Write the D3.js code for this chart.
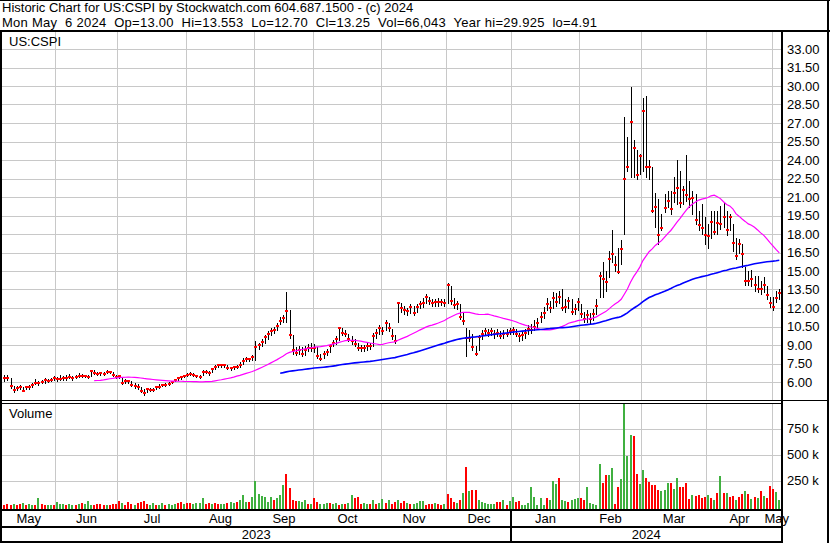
<!DOCTYPE html>
<html>
<head>
<meta charset="utf-8">
<script src="https://cdn.jsdelivr.net/npm/d3@7"></script>
<style>
body { margin: 0; background: #fff; }
svg { display: block; }
text { font-family: "Liberation Sans", Arial, sans-serif; white-space: pre; fill: #000; }
</style>
</head>
<body>
<script>
const width = 830;
const height = 543;

const title = "Historic Chart for US:CSPI by Stockwatch.com 604.687.1500 - (c) 2024";
const subtitle = "Mon May  6 2024  Op=13.00  Hi=13.553  Lo=12.70  Cl=13.25  Vol=66,043  Year hi=29.925  lo=4.91";
const symbol = "US:CSPI";

// daily closes, May 8 2023 .. May 6 2024
const closes = [
  6.30, 6.30, 5.67, 5.35, 5.49, 5.62, 5.30, 5.57, 5.57, 5.76,
  5.95, 5.90, 6.03, 6.16, 6.11, 6.20, 6.30, 6.22, 6.22, 6.30,
  6.30, 6.43, 6.30, 6.43, 6.49, 6.49, 6.49, 6.43, 6.92, 6.75,
  6.65, 6.70, 6.65, 6.81, 6.81, 6.56, 6.43, 6.49, 5.89, 6.11,
  6.11, 5.76, 5.67, 5.57, 5.30, 5.08, 5.41, 5.35, 5.35, 5.57,
  5.62, 5.76, 5.76, 5.84, 6.03, 6.16, 6.30, 6.38, 6.49, 6.57,
  6.65, 6.54, 6.49, 6.43, 6.81, 6.84, 6.70, 7.03, 7.24, 7.38,
  7.38, 7.38, 7.11, 7.11, 7.19, 7.24, 7.38, 7.73, 7.84, 7.84,
  8.00, 8.86, 9.00, 9.27, 9.62, 9.89, 10.16, 10.22, 10.54, 10.97,
  11.20, 11.76, 9.81, 8.60, 8.38, 8.60, 8.24, 8.56, 8.73, 8.73,
  8.78, 8.10, 7.90, 8.24, 8.45, 8.92, 9.20, 9.46, 10.40, 10.00,
  9.87, 9.46, 9.33, 9.10, 8.78, 8.73, 8.73, 8.92, 8.92, 9.74,
  10.00, 10.40, 10.15, 10.75, 10.36, 9.74, 9.33, 12.38, 12.00, 11.84,
  11.73, 12.10, 11.56, 12.05, 12.33, 12.38, 12.87, 12.55, 12.38, 12.45,
  12.46, 12.46, 12.38, 13.90, 12.55, 12.27, 12.33, 11.30, 10.96, 9.60,
  9.60, 8.80, 8.30, 9.65, 9.93, 10.10, 10.00, 10.10, 9.87, 10.00,
  9.74, 9.87, 9.93, 10.15, 10.20, 9.90, 9.70, 9.80, 10.00, 10.30,
  10.20, 10.50, 10.80, 11.30, 11.60, 12.30, 12.00, 12.80, 12.50, 12.90,
  12.00, 12.10, 12.60, 11.70, 11.90, 12.45, 11.50, 11.10, 11.40, 11.10,
  11.50, 12.20, 14.60, 14.35, 14.10, 16.00, 16.40, 15.50, 14.90, 16.80,
  22.50, 23.40, 27.10, 24.95, 22.80, 24.30, 28.00, 23.40, 23.40, 19.90,
  20.20, 17.90, 18.50, 20.10, 20.65, 20.00, 21.30, 21.70, 20.50, 21.60,
  21.20, 20.80, 20.90, 19.10, 18.70, 18.50, 17.90, 17.80, 19.00, 18.20,
  18.90, 18.80, 19.40, 18.30, 19.40, 17.30, 16.25, 17.15, 16.40, 14.20,
  14.20, 14.35, 13.90, 13.50, 13.50, 13.90, 13.05, 12.40, 12.10, 12.80,
  13.25
];

const highs = [
  6.60, 6.55, 6.30, 5.70, 5.65, 5.75, 5.60, 5.70, 5.75, 5.90,
  6.25, 6.10, 6.15, 6.30, 6.25, 6.35, 6.45, 6.40, 6.60, 6.50,
  6.55, 6.65, 6.45, 6.60, 6.70, 6.65, 6.60, 6.55, 7.00, 6.95,
  6.85, 6.80, 6.80, 6.95, 6.90, 6.80, 6.60, 6.60, 6.30, 6.25,
  6.20, 6.10, 5.95, 5.80, 5.60, 5.40, 5.55, 5.50, 5.50, 5.65,
  5.80, 5.85, 5.95, 6.00, 6.10, 6.25, 6.40, 6.50, 6.60, 6.70,
  6.80, 6.70, 6.60, 6.60, 6.95, 6.95, 6.90, 7.15, 7.35, 7.50,
  7.50, 7.45, 7.35, 7.25, 7.30, 7.40, 7.60, 7.95, 8.00, 7.95,
  8.20, 9.30, 9.20, 9.50, 9.80, 10.10, 10.40, 10.50, 10.80, 11.30,
  11.40, 13.30, 11.80, 9.80, 8.80, 8.90, 8.80, 8.90, 9.10, 9.20,
  9.10, 8.85, 8.30, 8.50, 8.70, 9.10, 9.40, 9.70, 10.45, 10.40,
  10.20, 9.90, 9.70, 9.50, 9.20, 9.00, 9.00, 9.20, 9.20, 9.95,
  10.30, 10.60, 10.50, 11.00, 10.80, 10.30, 9.80, 12.50, 12.40, 12.20,
  12.00, 12.30, 12.20, 12.30, 12.60, 12.80, 13.10, 12.90, 12.70, 12.75,
  12.80, 12.70, 12.70, 14.00, 13.80, 12.80, 12.60, 12.30, 11.60, 10.40,
  10.20, 9.90, 8.90, 9.80, 10.20, 10.40, 10.30, 10.40, 10.20, 10.30,
  10.10, 10.20, 10.30, 10.40, 10.50, 10.30, 10.00, 10.10, 10.30, 10.60,
  10.70, 11.00, 11.20, 11.70, 12.10, 12.80, 12.60, 13.30, 13.20, 13.40,
  13.50, 12.70, 12.90, 12.70, 12.30, 12.80, 12.30, 11.70, 11.80, 11.60,
  11.90, 12.70, 14.95, 15.70, 15.00, 16.65, 18.30, 16.20, 16.90, 17.50,
  27.50, 25.90, 29.93, 25.60, 24.80, 24.50, 29.00, 29.20, 24.00, 23.40,
  21.30, 20.85, 19.60, 21.25, 21.50, 21.50, 22.60, 24.00, 23.10, 21.90,
  24.40, 22.30, 21.50, 21.25, 19.90, 20.40, 19.40, 18.80, 19.90, 19.90,
  19.90, 20.30, 20.60, 19.90, 19.60, 18.80, 17.70, 17.60, 17.20, 15.30,
  15.00, 15.10, 14.60, 14.60, 14.20, 14.50, 13.80, 12.90, 12.90, 13.40,
  13.55
];

const lows = [
  6.10, 6.15, 5.55, 5.20, 5.35, 5.45, 5.25, 5.40, 5.45, 5.60,
  5.80, 5.75, 5.90, 5.95, 6.00, 6.05, 6.15, 6.10, 6.15, 6.20,
  6.20, 6.30, 6.20, 6.30, 6.40, 6.40, 6.38, 6.35, 6.50, 6.65,
  6.55, 6.60, 6.55, 6.70, 6.70, 6.45, 6.35, 6.35, 5.80, 5.95,
  5.90, 5.65, 5.55, 5.45, 5.20, 4.91, 5.20, 5.25, 5.25, 5.40,
  5.50, 5.65, 5.70, 5.75, 5.90, 6.05, 6.15, 6.25, 6.40, 6.45,
  6.55, 6.45, 6.40, 6.30, 6.55, 6.70, 6.60, 6.85, 7.05, 7.25,
  7.25, 7.25, 7.05, 7.00, 7.05, 7.15, 7.25, 7.45, 7.70, 7.70,
  7.80, 7.80, 8.70, 8.90, 9.20, 9.50, 9.80, 10.00, 10.20, 10.70,
  10.90, 10.90, 9.60, 8.30, 8.20, 8.30, 8.10, 8.20, 8.50, 8.50,
  8.40, 7.95, 7.75, 7.95, 8.20, 8.40, 8.90, 9.10, 9.40, 9.80,
  9.70, 9.30, 9.10, 8.90, 8.60, 8.50, 8.55, 8.60, 8.70, 8.90,
  9.60, 9.90, 9.90, 10.20, 10.10, 9.50, 9.20, 10.90, 11.70, 11.50,
  11.40, 11.60, 11.40, 11.70, 12.00, 12.10, 12.40, 12.30, 12.20, 12.20,
  12.20, 12.25, 12.20, 12.40, 12.30, 12.00, 11.90, 11.10, 10.70, 8.10,
  9.30, 8.60, 8.20, 8.60, 9.50, 9.80, 9.70, 9.80, 9.60, 9.70,
  9.60, 9.60, 9.70, 9.90, 9.90, 9.70, 9.30, 9.40, 9.60, 9.90,
  10.00, 10.20, 10.50, 10.90, 11.20, 11.80, 11.70, 12.00, 12.20, 12.40,
  11.80, 11.70, 12.00, 11.50, 11.50, 11.80, 11.30, 10.90, 10.90, 10.80,
  11.00, 11.50, 12.90, 12.90, 13.40, 14.50, 15.70, 15.00, 14.80, 15.60,
  18.00, 23.10, 22.60, 22.60, 22.50, 22.90, 23.10, 22.60, 22.50, 19.80,
  18.55, 17.20, 18.30, 19.80, 20.20, 19.60, 20.60, 20.40, 20.20, 20.40,
  20.70, 20.20, 19.60, 18.80, 18.30, 18.00, 17.20, 16.90, 17.70, 18.00,
  18.00, 18.40, 18.60, 17.90, 18.30, 16.60, 16.00, 16.50, 15.30, 13.90,
  13.90, 13.80, 13.40, 13.30, 13.10, 13.30, 12.70, 12.10, 11.85, 12.50,
  12.70
];

// daily volume, thousands of shares
const volumes = [
  15, 20, 18, 25, 15, 22, 30, 18, 20, 15,
  12, 80, 25, 15, 10, 18, 12, 42, 25, 20,
  18, 20, 12, 15, 20, 30, 20, 51, 15, 10,
  28, 28, 15, 12, 18, 25, 20, 51, 30, 12,
  42, 20, 15, 30, 45, 51, 20, 18, 30, 15,
  12, 30, 18, 20, 15, 22, 30, 40, 20, 30,
  30, 20, 35, 38, 80, 25, 32, 28, 30, 20,
  25, 25, 30, 40, 30, 40, 58, 106, 48, 42,
  96, 243, 122, 99, 90, 42, 96, 58, 80, 106,
  205, 310, 176, 58, 51, 51, 40, 64, 20, 25,
  80, 40, 20, 25, 30, 35, 20, 30, 15, 25,
  25, 30, 106, 80, 90, 25, 30, 25, 20, 58,
  25, 30, 74, 30, 67, 25, 48, 67, 30, 51,
  30, 20, 25, 35, 55, 50, 15, 20, 25, 30,
  20, 15, 25, 122, 80, 42, 32, 64, 128, 378,
  147, 154, 154, 67, 42, 30, 28, 25, 20, 48,
  42, 67, 19, 51, 87, 42, 51, 19, 19, 32,
  192, 87, 19, 80, 19, 80, 58, 250, 215, 272,
  67, 51, 42, 67, 74, 80, 80, 67, 186, 32,
  26, 19, 410, 228, 305, 305, 368, 20, 186, 266,
  987, 490, 689, 682, 314, 218, 352, 275, 234, 208,
  208, 160, 147, 160, 228, 228, 170, 275, 186, 186,
  228, 74, 112, 99, 112, 84, 90, 112, 80, 58,
  131, 291, 131, 131, 90, 99, 67, 90, 122, 147,
  122, 74, 90, 80, 147, 99, 80, 195, 170, 138,
  66
];

// volume bar colour per day: g = up, r = down
const volDir =
  "rrrgrrgrgg" + "rgrrggrggg" + "rggrgrgggr" + "rrrgrrrrgr" + "rrgrrrrggr" +
  "ggrgggrrgr" + "rggggrrgrr" + "ggrggrgggr" + "gggggggrgg" + "grrrrgggrg" +
  "rrgggrggrg" + "rggrrrggrg" + "rggrgrrgrr" + "grggggrrrg" + "rrgrrrgrgr" +
  "grrggggggr" + "rgrggrrggg" + "gggggrgggr" + "ggrgggrrgg" + "gggrrggrrg" +
  "gggrrggrrr" + "rrgggrggrr" + "rrgrrrrgrg" + "rgrgrrgrrg" + "rgrgrgrrrg" +
  "g";

const months = [
  ["May", 0], ["Jun", 17], ["Jul", 37], ["Aug", 59], ["Sep", 81], ["Oct", 100],
  ["Nov", 122], ["Dec", 143], ["Jan", 164], ["Feb", 186], ["Mar", 206], ["Apr", 227], ["May", 248]
];
const years = [["2023", 0], ["2024", 164]];
const priceTicks = [6, 7.5, 9, 10.5, 12, 13.5, 15, 16.5, 18, 19.5, 21, 22.5, 24, 25.5, 27, 28.5, 30, 31.5, 33];
const volTicks = [250, 500, 750];

// moving averages of the closes, as the chart plots them
function sma(period) {
  return closes.map((c, i) => i < period - 1 ? null : d3.mean(closes.slice(i - period + 1, i + 1)));
}
const maShort = sma(30);
const maLong = sma(90);

const n = closes.length;
const left = 2, right = 782;
const fontSize = 13;
const x = d3.scaleLinear().domain([0, n - 1]).range([4.3, 779.3]);
const step = x(1) - x(0);
const yPrice = d3.scaleLinear().domain([6, 33]).range([382, 49]);
const yVol = d3.scaleLinear().domain([0, 1000]).range([506.5, 402.5]);

const svg = d3.select("body").append("svg")
    .attr("width", width)
    .attr("height", height);

svg.append("rect").attr("width", width).attr("height", height).attr("fill", "#fff");

// header
svg.append("text").attr("x", 2).attr("y", 12).attr("font-size", fontSize).text(title);
svg.append("text").attr("x", 2).attr("y", 27).attr("font-size", fontSize)
    .attr("textLength", 595).attr("lengthAdjust", "spacing")
    .text(subtitle);

const grid = svg.append("g")
    .attr("stroke", "#c8c8c8")
    .attr("stroke-width", 1)
    .attr("shape-rendering", "crispEdges");

grid.selectAll(".hp")
  .data(priceTicks)
  .join("line")
    .attr("x1", left).attr("x2", right)
    .attr("y1", d => Math.round(yPrice(d)) + 0.5)
    .attr("y2", d => Math.round(yPrice(d)) + 0.5);

grid.selectAll(".hv")
  .data(volTicks)
  .join("line")
    .attr("x1", left).attr("x2", right)
    .attr("y1", d => Math.round(yVol(d)) + 0.5)
    .attr("y2", d => Math.round(yVol(d)) + 0.5);

const monthX = months.slice(1).map(m => Math.round(x(m[1]) - step / 2) + 0.5);
monthX.forEach(mx => {
  grid.append("line").attr("x1", mx).attr("x2", mx).attr("y1", 32).attr("y2", 400);
  grid.append("line").attr("x1", mx).attr("x2", mx).attr("y1", 404).attr("y2", 509);
});

// price bars: high-low line with a red tick at the close
const bars = closes.map((c, i) => ({ i, c, h: highs[i], l: lows[i], v: volumes[i], up: volDir[i] === "g" }));

svg.append("g")
    .attr("stroke", "#000")
    .attr("shape-rendering", "crispEdges")
  .selectAll("line")
  .data(bars)
  .join("line")
    .attr("x1", d => Math.round(x(d.i)) + 0.5)
    .attr("x2", d => Math.round(x(d.i)) + 0.5)
    .attr("y1", d => Math.round(yPrice(d.h)))
    .attr("y2", d => Math.round(yPrice(d.l)) + 1);

svg.append("g")
    .attr("fill", "#ff0000")
    .attr("shape-rendering", "crispEdges")
  .selectAll("rect")
  .data(bars)
  .join("rect")
    .attr("x", d => Math.round(x(d.i)) - 1)
    .attr("y", d => Math.round(yPrice(d.c)) - 1)
    .attr("width", 3)
    .attr("height", 2);

// moving averages
const maLine = d3.line()
    .defined(d => d[1] !== null)
    .x(d => x(d[0]))
    .y(d => yPrice(d[1]));

svg.append("path")
    .datum(maShort.map((v, i) => [i, v]))
    .attr("fill", "none")
    .attr("stroke", "#ff00ff")
    .attr("stroke-width", 1.2)
    .attr("d", maLine);

svg.append("path")
    .datum(maLong.map((v, i) => [i, v]))
    .attr("fill", "none")
    .attr("stroke", "#0000ff")
    .attr("stroke-width", 1.6)
    .attr("d", maLine);

// volume bars
svg.append("g")
    .attr("shape-rendering", "crispEdges")
  .selectAll("rect")
  .data(bars)
  .join("rect")
    .attr("x", d => Math.round(x(d.i)) - 1)
    .attr("y", d => Math.round(yVol(d.v)))
    .attr("width", 2)
    .attr("height", d => 509 - Math.round(yVol(d.v)))
    .attr("fill", d => d.up ? "#40b040" : "#ff0000");

// labels
svg.append("text").attr("x", 9).attr("y", 46).attr("font-size", fontSize).text(symbol);
svg.append("text").attr("x", 9).attr("y", 418).attr("font-size", fontSize).text("Volume");

svg.append("g")
  .selectAll("text")
  .data(priceTicks)
  .join("text")
    .attr("x", 787)
    .attr("y", d => yPrice(d) + 4.5)
    .attr("font-size", fontSize)
    .text(d => d3.format(".2f")(d));

svg.append("g")
  .selectAll("text")
  .data(volTicks)
  .join("text")
    .attr("x", 787)
    .attr("y", d => yVol(d) + 4.5)
    .attr("font-size", fontSize)
    .text(d => d + " k");

// month and year labels
const monthEdges = [left].concat(monthX, [x(n - 1) + step / 2]);
svg.append("g")
  .selectAll("text")
  .data(months)
  .join("text")
    .attr("x", (d, k) => (monthEdges[k] + monthEdges[k + 1]) / 2)
    .attr("y", 523)
    .attr("text-anchor", "middle")
    .attr("font-size", fontSize)
    .text(d => d[0]);

const yearX = Math.round(x(years[1][1]) - step / 2) - 0.5;
const yearEdges = [left, yearX, right];
svg.append("g")
  .selectAll("text")
  .data(years)
  .join("text")
    .attr("x", (d, k) => (yearEdges[k] + yearEdges[k + 1]) / 2)
    .attr("y", 539)
    .attr("text-anchor", "middle")
    .attr("font-size", fontSize)
    .text(d => d[0]);

// frame
const frame = svg.append("g").attr("stroke", "#000").attr("shape-rendering", "crispEdges");
frame.append("line").attr("x1", 0).attr("x2", width).attr("y1", 0.5).attr("y2", 0.5);
frame.append("line").attr("x1", 0).attr("x2", width).attr("y1", 31).attr("y2", 31).attr("stroke-width", 2);
frame.append("line").attr("x1", 1).attr("x2", 1).attr("y1", 31).attr("y2", height).attr("stroke-width", 2);
frame.append("line").attr("x1", right).attr("x2", right).attr("y1", 31).attr("y2", height).attr("stroke-width", 2);
frame.append("line").attr("x1", 828).attr("x2", 828).attr("y1", 0).attr("y2", height).attr("stroke-width", 2);
frame.append("line").attr("x1", 0).attr("x2", 828).attr("y1", 400.5).attr("y2", 400.5).attr("stroke-width", 1.5);
frame.append("line").attr("x1", 0).attr("x2", right).attr("y1", 403.5).attr("y2", 403.5).attr("stroke-width", 1.5);
frame.append("line").attr("x1", 0).attr("x2", right).attr("y1", 510).attr("y2", 510).attr("stroke-width", 2);
frame.append("line").attr("x1", 0).attr("x2", right).attr("y1", 527).attr("y2", 527).attr("stroke-width", 2);
frame.append("line").attr("x1", 0).attr("x2", right).attr("y1", 542).attr("y2", 542).attr("stroke-width", 2);
frame.append("line").attr("x1", yearX).attr("x2", yearX).attr("y1", 510).attr("y2", 542).attr("stroke-width", 2);
</script>
</body>
</html>
